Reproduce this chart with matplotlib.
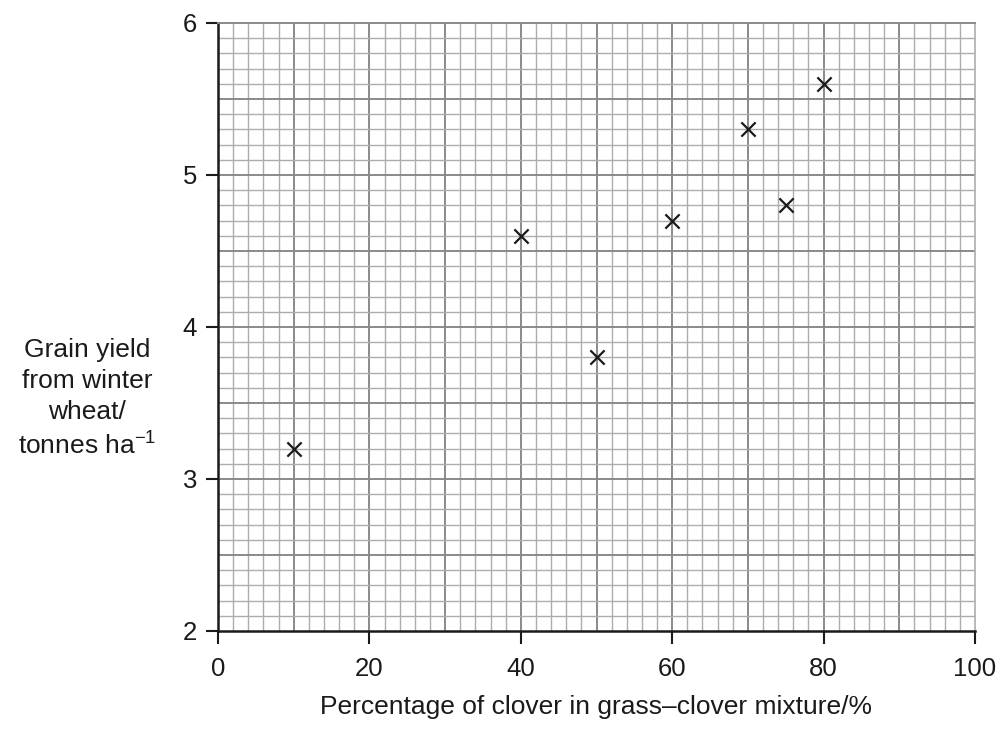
import numpy as np
import matplotlib
matplotlib.use("Agg")
import matplotlib.pyplot as plt

plt.rcParams['font.family'] = ['Liberation Sans', 'DejaVu Sans']
plt.rcParams['mathtext.fontset'] = 'custom'
plt.rcParams['mathtext.rm'] = 'Liberation Sans'
plt.rcParams['mathtext.it'] = 'Liberation Sans'

# clover percentage vs grain yield (tonnes/ha)
clover_pct = [10, 40, 50, 60, 70, 75, 80]
grain_yield = [3.2, 4.6, 3.8, 4.7, 5.3, 4.8, 5.6]
x_ticks = [0, 20, 40, 60, 80, 100]
y_ticks = [2, 3, 4, 5, 6]

fig = plt.figure(figsize=(10.02, 7.31), dpi=100)
ax = fig.add_axes([218 / 1002, 1 - 631 / 731, (975 - 218) / 1002, (631 - 23) / 731])
ax.set_xlim(0, 100)
ax.set_ylim(2, 6)

# graph-paper grid
minor_c, major_c = "#adadad", "#8a8a8a"
for gx in np.arange(2, 100, 2):
    major = gx % 10 == 0
    ax.axvline(gx, color=major_c if major else minor_c, lw=1.4 if major else 1.0, zorder=1)
for gy in np.arange(2.1, 6.0, 0.1):
    major = abs(gy * 2 - round(gy * 2)) < 1e-6
    ax.axhline(gy, color=major_c if major else minor_c, lw=1.4 if major else 1.0, zorder=1)

ax.scatter(clover_pct, grain_yield, marker="x", s=105, color="#1a1a1a", lw=1.6, zorder=3)

ax.set_xticks(x_ticks)
ax.set_yticks(y_ticks)
ax.tick_params(direction="out", length=9, width=1.5, labelsize=18.5, color="#1a1a1a",
               labelcolor="#1a1a1a")
ax.tick_params(axis="x", pad=10)
ax.tick_params(axis="y", pad=6)
for side in ("left", "bottom"):
    ax.spines[side].set_color("#1a1a1a")
    ax.spines[side].set_linewidth(1.8)
ax.spines["top"].set_color(major_c)
ax.spines["top"].set_linewidth(1.4)
ax.spines["right"].set_color(minor_c)
ax.spines["right"].set_linewidth(1.2)

ax.set_xlabel("Percentage of clover in grass\u2013clover mixture/%", fontsize=19,
              labelpad=10, color="#1a1a1a")
fig.text(87 / 1002, 1 - 399 / 731, "Grain yield\nfrom winter\nwheat/\ntonnes ha$^{\u22121}$",
         ha="center", va="center", fontsize=19, linespacing=1.38, color="#1a1a1a")

fig.savefig("out.png", dpi=100)
